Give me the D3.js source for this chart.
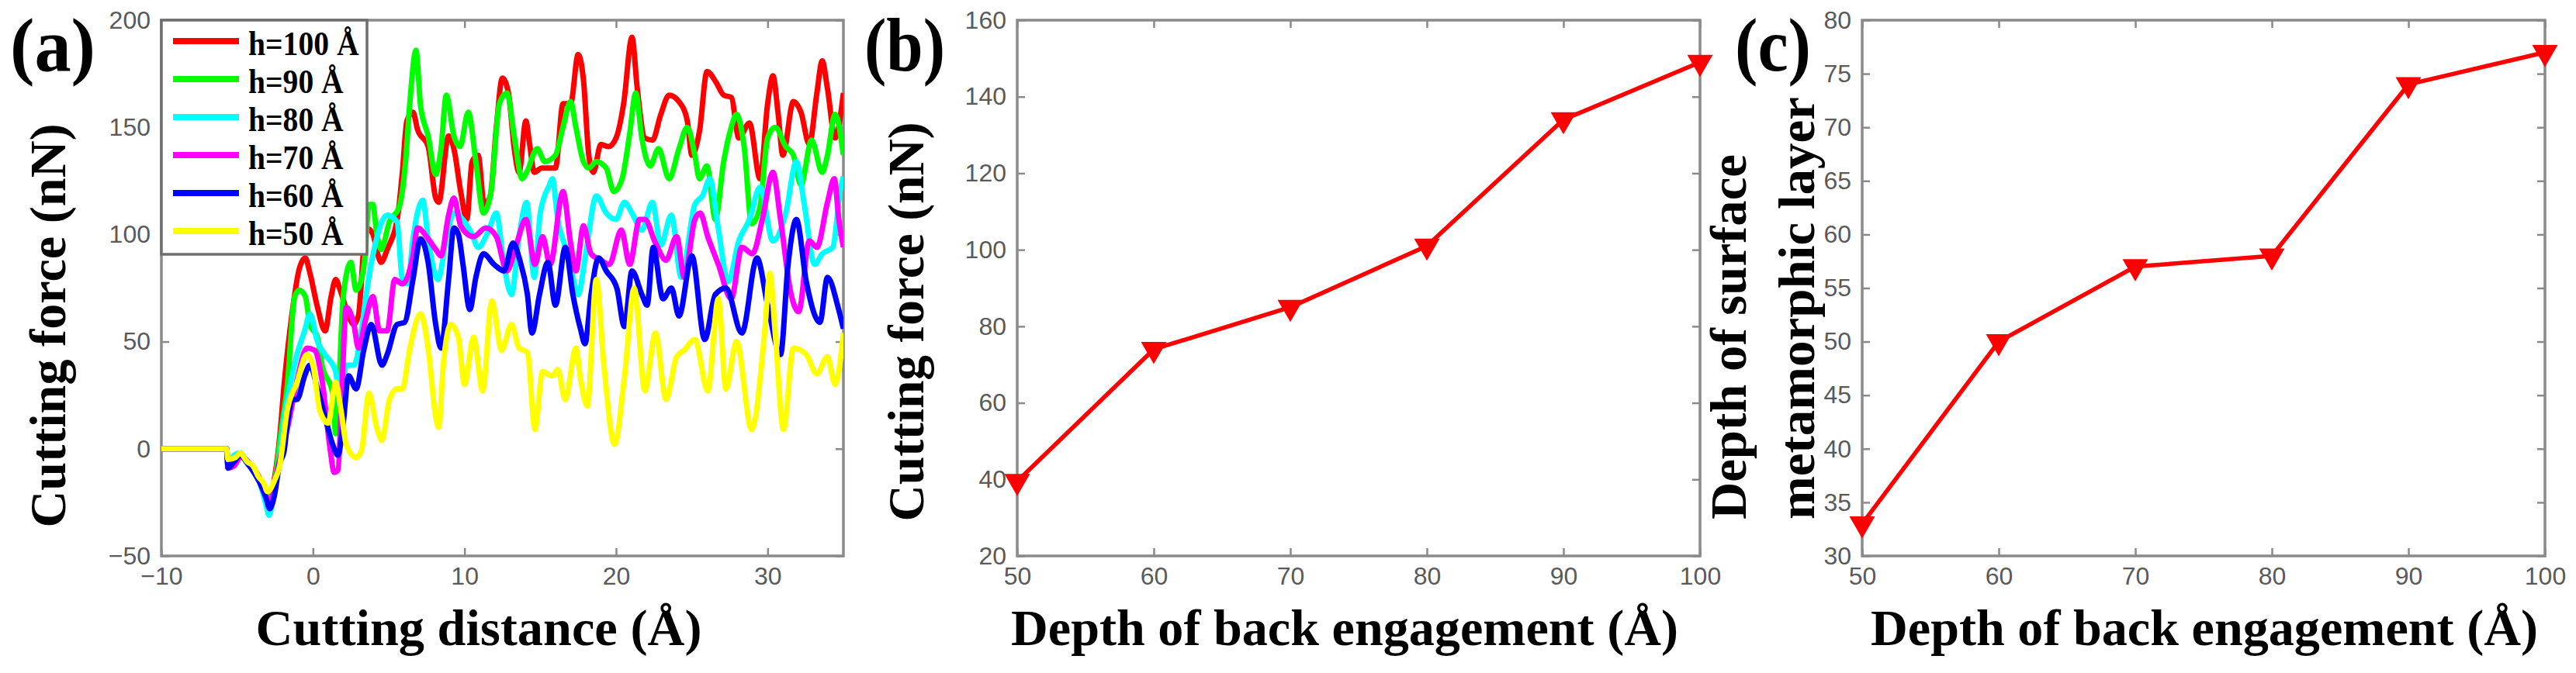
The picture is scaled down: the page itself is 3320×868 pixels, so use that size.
<!DOCTYPE html>
<html>
<head>
<meta charset="utf-8">
<script src="https://cdn.jsdelivr.net/npm/d3@7"></script>
<style>
  html, body { margin: 0; padding: 0; background: #fff; }
  svg { display: block; }
</style>
</head>
<body>
<div id="chart"></div>
<script>
// ── Data: panel (a), cutting force vs cutting distance ───────────────────────
const h100 = [[-10,0],[-5.7,0],[-5.6,-7],[-5.2,-4],[-4.8,-3],[-4.3,-6],[-3.9,-9],[-3.5,-14],[-3.1,-19],[-2.8,-22],[-2.5,-12],[-2.2,5],[-1.9,30],[-1.4,62],[-0.9,84],[-0.5,89],[-0.2,82],[0.3,66],[0.8,55],[1.2,71],[1.5,79],[1.8,74],[2.3,63],[2.7,58],[3.0,62],[3.5,103],[3.9,101],[4.5,87],[4.9,93],[5.6,109],[5.9,129],[6.2,153],[6.6,157],[6.9,149],[7.6,141],[8.1,117],[8.3,115],[8.95,146],[9.3,140],[9.75,120],[10.15,107],[10.5,134],[10.9,137],[11.3,114],[11.7,118],[12.1,150],[12.5,173],[12.9,166],[13.3,139],[13.6,129],[14.05,153],[14.3,142],[14.6,129],[15.1,131],[16.0,131],[16.5,161],[17.0,161],[17.5,184],[17.85,172],[18.2,137],[18.5,129],[19.0,142],[19.5,141],[20.0,145],[20.5,161],[21.05,192],[21.4,168],[21.9,145],[22.4,144],[22.95,156],[23.5,165],[24.15,162],[24.7,153],[25.0,137],[25.5,148],[26.0,176],[26.6,171],[27.1,165],[27.6,164],[28.1,145],[28.8,152],[29.5,126],[30.0,161],[30.35,174],[30.7,156],[31.0,137],[31.7,162],[32.2,157],[32.75,142],[33.25,166],[33.6,181],[33.95,168],[34.45,145],[35,166]];
const h90 = [[-10,0],[-5.7,0],[-5.6,-8],[-5.2,-5],[-4.8,-3],[-4.3,-7],[-3.9,-10],[-3.5,-15],[-3.1,-21],[-2.8,-24],[-2.5,-14],[-2.1,8],[-1.7,29],[-1.2,71],[-0.9,74],[-0.5,71],[-0.2,58],[0.3,52],[0.6,39],[1.3,26],[1.5,7],[1.7,28],[2.0,71],[2.5,87],[2.85,74],[3.2,79],[3.4,87],[3.7,114],[3.95,114],[4.2,101],[4.5,93],[5.05,106],[5.7,113],[6.1,133],[6.4,162],[6.8,186],[7.1,160],[7.6,146],[8.1,128],[8.45,140],[8.8,165],[9.3,146],[9.7,141],[10.25,157],[10.75,134],[11.25,110],[11.75,120],[12.3,161],[12.8,166],[13.3,145],[13.8,126],[14.1,129],[14.8,140],[15.3,134],[16.0,137],[16.5,150],[17.0,162],[17.35,150],[17.85,134],[18.2,131],[18.7,134],[19.35,131],[19.85,120],[20.4,126],[20.9,147],[21.3,166],[21.7,145],[22.25,132],[22.8,140],[23.5,126],[24.15,140],[24.7,150],[25.2,137],[25.5,126],[26.0,132],[26.55,107],[27.1,134],[27.6,150],[27.95,156],[28.45,141],[28.95,105],[29.5,113],[30.0,145],[30.5,150],[31.2,141],[31.7,137],[32.2,123],[32.9,144],[33.6,129],[33.95,137],[34.45,156],[35,137]];
const h80 = [[-10,0],[-5.7,0],[-5.6,-9],[-5.2,-3],[-4.8,-2],[-4.3,-7],[-3.9,-10],[-3.5,-16],[-3.1,-26],[-2.9,-31],[-2.6,-22],[-2.2,-4],[-1.9,14],[-1.5,30],[-1.05,44],[-0.55,55],[-0.2,63],[0.3,50],[0.8,44],[1.5,36],[1.8,20],[2.2,39],[2.7,39],[3.2,55],[3.5,71],[4.2,98],[4.9,109],[5.55,106],[5.9,79],[6.25,77],[6.6,98],[7.25,116],[7.6,98],[8.25,79],[8.8,98],[9.3,110],[10.0,106],[10.5,100],[10.9,94],[11.6,102],[12.1,110],[12.6,86],[13.1,72],[13.6,99],[14.1,115],[14.6,80],[15.0,110],[15.6,123],[15.8,126],[16.15,107],[16.65,94],[17.15,80],[17.5,72],[18.0,91],[18.7,118],[19.35,110],[20.0,107],[20.55,115],[21.05,110],[21.7,102],[22.4,115],[22.95,95],[23.65,109],[24.3,80],[25.2,114],[25.7,118],[26.2,126],[26.7,105],[27.4,78],[28.1,97],[28.8,107],[29.5,122],[30.35,97],[31.2,110],[31.9,134],[32.4,115],[33.1,86],[33.6,91],[34.3,94],[34.8,121],[35,127]];
const h70 = [[-10,0],[-5.7,0],[-5.6,-9],[-5.2,-8],[-4.8,-4],[-4.3,-6],[-3.9,-10],[-3.5,-15],[-3.1,-22],[-2.8,-25],[-2.5,-15],[-2.1,-2],[-1.7,9],[-1.05,32],[-0.4,47],[0.1,46],[0.6,32],[1.15,-1],[1.4,-11],[1.65,-10],[1.9,26],[2.2,66],[2.7,58],[3.0,47],[3.5,61],[3.95,71],[4.4,55],[4.9,55],[5.4,79],[5.9,77],[6.6,90],[6.9,103],[7.6,98],[8.1,93],[8.45,90],[8.95,109],[9.3,117],[9.75,104],[10.6,99],[11.4,103],[12.1,99],[12.8,83],[13.45,96],[14.05,107],[14.65,86],[15.15,99],[15.65,86],[16.5,120],[17.0,96],[17.35,83],[17.85,104],[18.35,91],[19.0,88],[19.55,86],[20.35,102],[20.9,86],[21.55,107],[21.9,107],[22.6,96],[23.3,88],[24.0,99],[24.5,80],[25.2,107],[25.55,110],[26.05,99],[26.75,86],[27.6,70],[28.3,94],[29.0,91],[29.65,107],[30.35,129],[30.85,107],[31.55,72],[32.05,64],[32.75,97],[33.25,94],[33.95,115],[34.4,126],[34.7,107],[35,94]];
const h60 = [[-10,0],[-5.7,0],[-5.6,-9],[-5.2,-6],[-4.8,-3],[-4.3,-7],[-3.9,-11],[-3.5,-16],[-3.1,-23],[-2.85,-28],[-2.55,-22],[-2.2,-7],[-1.9,-1],[-1.7,11],[-1.35,23],[-1.05,23],[-0.55,34],[-0.2,39],[0.3,28],[0.8,15],[1.3,2],[1.65,-3],[2.0,12],[2.35,34],[2.85,28],[3.35,46],[3.85,58],[4.55,39],[4.9,44],[5.55,58],[6.05,59],[6.6,79],[7.1,98],[7.6,87],[8.1,58],[8.45,47],[8.95,79],[9.3,103],[9.6,100],[9.9,86],[10.35,65],[10.75,80],[11.25,91],[11.95,86],[12.6,83],[13.2,96],[13.65,88],[14.15,72],[14.45,54],[14.95,72],[15.5,87],[16.0,67],[16.65,94],[17.15,72],[17.65,56],[17.95,49],[18.35,72],[18.85,89],[19.35,83],[20.05,75],[20.55,57],[21.05,83],[21.7,72],[22.05,67],[22.45,94],[23.1,70],[23.65,75],[24.15,62],[25.0,90],[25.85,51],[26.55,72],[27.25,75],[28.3,54],[29.3,89],[30.0,67],[30.85,44],[31.35,86],[31.9,107],[32.55,78],[33.45,59],[33.95,80],[34.65,66],[35,56]];
const h50 = [[-10,0],[-5.7,0],[-5.6,-5],[-5.1,-4],[-4.8,-2],[-4.35,-6],[-3.95,-8],[-3.6,-13],[-3.25,-16],[-3.0,-20],[-2.55,-15],[-2.2,-8],[-1.7,18],[-1.05,31],[-0.4,44],[0.0,39],[0.45,18],[1.0,12],[1.5,31],[1.85,18],[2.2,2],[2.85,-4],[3.2,-1],[3.7,26],[4.2,10],[4.55,4],[5.05,23],[5.55,28],[5.9,28],[6.4,47],[7.1,63],[7.6,47],[8.1,15],[8.3,10],[8.6,39],[9.1,58],[9.6,52],[10.0,30],[10.6,52],[11.2,27],[11.8,69],[12.45,46],[13.1,58],[13.6,47],[14.15,45],[14.65,9],[15.15,36],[15.8,34],[16.15,37],[16.65,23],[17.35,47],[17.65,33],[18.1,20],[18.7,79],[19.2,39],[19.9,2],[20.55,33],[21.2,75],[21.9,27],[22.6,54],[23.3,23],[24.0,43],[24.5,46],[25.2,51],[26.05,27],[26.75,70],[27.25,28],[27.95,50],[28.95,9],[29.8,54],[30.15,82],[30.5,54],[31.05,9],[31.7,47],[32.55,44],[33.25,35],[33.95,43],[34.45,30],[35,54]];

const seriesA      = [h100, h90, h80, h70, h60, h50];
const seriesLabels = ["h=100 Å", "h=90 Å", "h=80 Å", "h=70 Å", "h=60 Å", "h=50 Å"];
const seriesColors = ["#ff0000", "#00ff00", "#00ffff", "#ff00ff", "#0000ff", "#ffff00"];
const xTicksA = [-10, 0, 10, 20, 30];
const yTicksA = [-50, 0, 50, 100, 150, 200];

// ── Data: panels (b) and (c) ─────────────────────────────────────────────────
const depth      = [50, 60, 70, 80, 90, 100];
const cutForce   = [39.5, 74, 85, 101, 134, 149];
const layerDepth = [33, 50, 57, 58, 74, 77];
const xTicksBC = [50, 60, 70, 80, 90, 100];
const yTicksB  = [20, 40, 60, 80, 100, 120, 140, 160];
const yTicksC  = [30, 35, 40, 45, 50, 55, 60, 65, 70, 75, 80];

// ── Layout ───────────────────────────────────────────────────────────────────
const W = 3320, H = 868;
const TOP = 26, BOTTOM = 717;
const FRAME_COLOR = "#8a8a8a";
const TICK_COLOR  = "#5a5a5a";
const SERIF = "'Liberation Serif', 'Times New Roman', serif";
const SANS  = "'Liberation Sans', Arial, sans-serif";

const svg = d3.select("#chart").append("svg")
  .attr("width", W).attr("height", H);
svg.append("rect").attr("width", W).attr("height", H).attr("fill", "#fff");

// ── Frame + MATLAB-style inward ticks on all four sides ─────────────────────
function makePanel(x0, x1, xDomain, yDomain, xTicks, yTicks) {
  const x = d3.scaleLinear().domain(xDomain).range([x0, x1]);
  const y = d3.scaleLinear().domain(yDomain).range([BOTTOM, TOP]);

  const styleAxis = g => {
    g.select(".domain").remove();
    g.selectAll(".tick line").attr("stroke", FRAME_COLOR).attr("stroke-width", 2.5);
    g.selectAll(".tick text")
      .attr("fill", TICK_COLOR)
      .attr("font-family", SANS)
      .attr("font-size", 32);
  };

  svg.append("g").attr("transform", `translate(0,${BOTTOM})`)
    .call(d3.axisBottom(x).tickValues(xTicks).tickSizeInner(-10).tickSizeOuter(0).tickPadding(14))
    .call(styleAxis);
  svg.append("g").attr("transform", `translate(0,${TOP})`)
    .call(d3.axisTop(x).tickValues(xTicks).tickSizeInner(-10).tickSizeOuter(0).tickFormat(""))
    .call(styleAxis);
  svg.append("g").attr("transform", `translate(${x0},0)`)
    .call(d3.axisLeft(y).tickValues(yTicks).tickSizeInner(-10).tickSizeOuter(0).tickPadding(14))
    .call(styleAxis);
  svg.append("g").attr("transform", `translate(${x1},0)`)
    .call(d3.axisRight(y).tickValues(yTicks).tickSizeInner(-10).tickSizeOuter(0).tickFormat(""))
    .call(styleAxis);

  svg.append("rect")
    .attr("x", x0).attr("y", TOP)
    .attr("width", x1 - x0).attr("height", BOTTOM - TOP)
    .attr("fill", "none").attr("stroke", FRAME_COLOR).attr("stroke-width", 3.5);

  return { x, y };
}

function boldText(txt, x, y, size, len, opts = {}) {
  const t = svg.append("text")
    .attr("x", x).attr("y", y)
    .attr("font-family", SERIF).attr("font-weight", "bold")
    .attr("font-size", size).attr("fill", "#000")
    .attr("text-anchor", opts.anchor || "middle")
    .text(txt);
  if (len) t.attr("textLength", len).attr("lengthAdjust", "spacingAndGlyphs");
  if (opts.rotate) t.attr("transform", `rotate(-90,${x},${y})`);
  return t;
}

// ── Panel (a) ────────────────────────────────────────────────────────────────
const A = makePanel(208, 1087, [-10, 35], [-50, 200], xTicksA, yTicksA);

svg.append("clipPath").attr("id", "clipA")
  .append("rect").attr("x", 208).attr("y", TOP)
  .attr("width", 1087 - 208).attr("height", BOTTOM - TOP);

const lineA = d3.line().curve(d3.curveMonotoneX).x(d => A.x(d[0])).y(d => A.y(d[1]));
svg.append("g").attr("clip-path", "url(#clipA)")
  .selectAll("path").data(seriesA).join("path")
  .attr("d", lineA)
  .attr("fill", "none")
  .attr("stroke", (d, i) => seriesColors[i])
  .attr("stroke-width", 7)
  .attr("stroke-linejoin", "round");

// legend (opaque box at top-left corner of the axes)
const legend = svg.append("g").attr("transform", `translate(208,${TOP})`);
legend.append("rect")
  .attr("width", 265).attr("height", 302)
  .attr("fill", "#fff").attr("stroke", "#6e6e6e").attr("stroke-width", 3.5);
seriesLabels.forEach((lab, i) => {
  const yy = 27 + i * 49;
  legend.append("line")
    .attr("x1", 15).attr("x2", 100).attr("y1", yy).attr("y2", yy)
    .attr("stroke", seriesColors[i]).attr("stroke-width", 8);
  const t = legend.append("text")
    .attr("x", 112).attr("y", yy + 18)
    .attr("font-family", SERIF).attr("font-weight", "bold")
    .attr("font-size", 44).attr("fill", "#000")
    .text(lab);
  t.attr("textLength", t.node().getComputedTextLength() * 0.9)
   .attr("lengthAdjust", "spacingAndGlyphs");
});

boldText("(a)", 13, 91, 98, 110, { anchor: "start" });
boldText("Cutting distance (Å)", 617, 832, 66, 575);
boldText("Cutting force (nN)", 84, 420, 66, 521, { rotate: true });

// ── Panels (b) and (c) ───────────────────────────────────────────────────────
const B = makePanel(1311, 2191, [50, 100], [20, 160], xTicksBC, yTicksB);
const C = makePanel(2400, 3280, [50, 100], [30, 80], xTicksBC, yTicksC);

function drawMarkedLine(P, ys) {
  const pts = depth.map((d, i) => [d, ys[i]]);
  svg.append("path")
    .attr("d", d3.line().x(d => P.x(d[0])).y(d => P.y(d[1]))(pts))
    .attr("fill", "none").attr("stroke", "#ff0000").attr("stroke-width", 5.5)
    .attr("stroke-linejoin", "round");
  svg.append("g").selectAll("path").data(pts).join("path")
    .attr("d", d3.symbol(d3.symbolTriangle, 470))
    .attr("transform", d => `translate(${P.x(d[0])},${P.y(d[1])}) rotate(180)`)
    .attr("fill", "#ff0000");
}

drawMarkedLine(B, cutForce);
boldText("(b)", 1114, 91, 98, 104, { anchor: "start" });
boldText("Depth of back engagement (Å)", 1733, 832, 66, 860);
boldText("Cutting force (nN)", 1190, 415, 66, 515, { rotate: true });

drawMarkedLine(C, layerDepth);
boldText("(c)", 2236, 91, 98, 98, { anchor: "start" });
boldText("Depth of back engagement (Å)", 2841, 832, 66, 860);
boldText("Depth of surface", 2250, 670, 66, 471, { anchor: "start", rotate: true });
boldText("metamorphic layer", 2338, 670, 66, 545, { anchor: "start", rotate: true });
</script>
</body>
</html>
